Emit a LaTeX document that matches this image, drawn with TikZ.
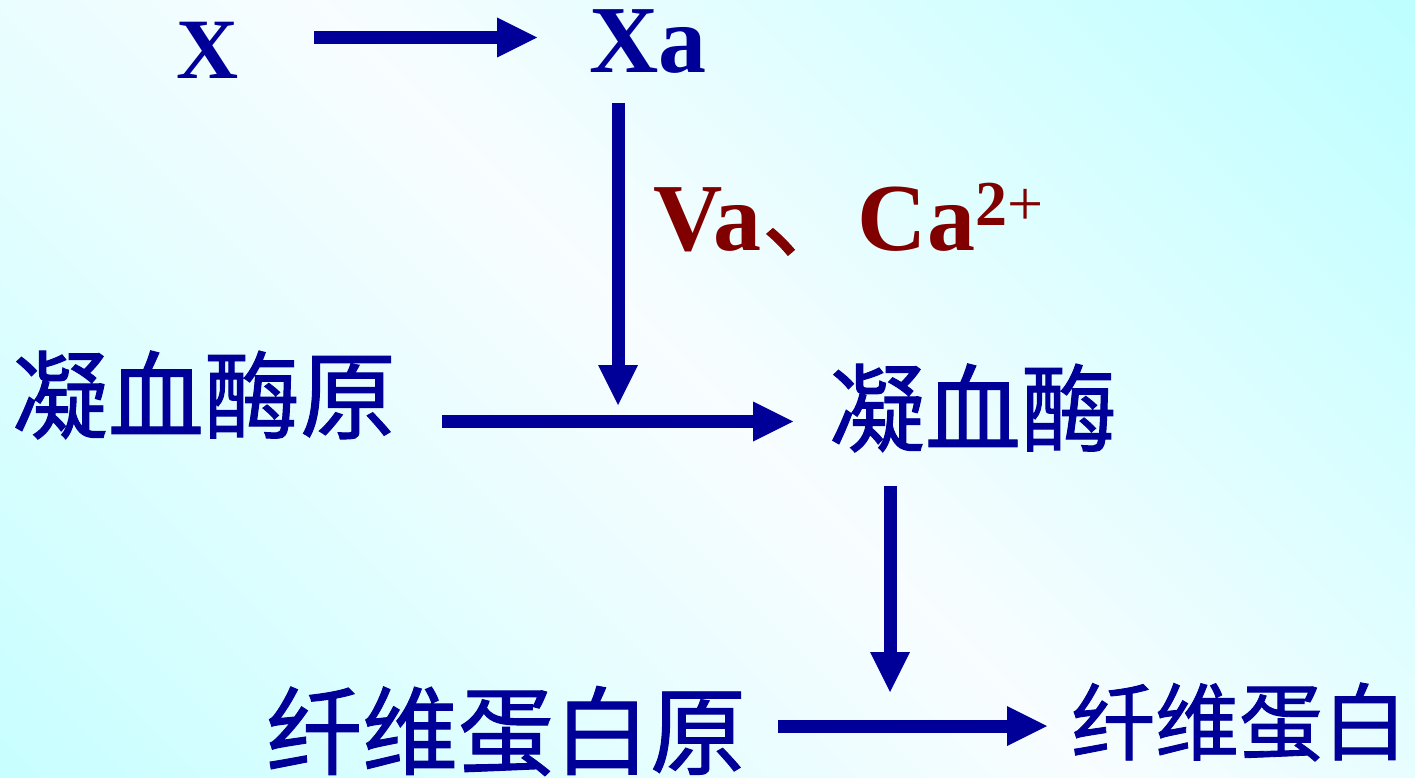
\documentclass[tikz,border=0pt]{standalone}
\usepackage{fontspec}
\setmainfont{Liberation Serif}
\newfontfamily\cjk[FakeBold=1]{Noto Sans CJK SC}
\usetikzlibrary{arrows.meta}
\definecolor{dblue}{RGB}{0,0,153}
\definecolor{dred}{RGB}{128,0,0}
\definecolor{bgA}{RGB}{180,255,255}
\definecolor{bgW}{RGB}{248,253,255}
\definecolor{bgB}{RGB}{165,255,255}
\pgfdeclarehorizontalshading{bgshade}{100bp}{color(0bp)=(bgA); color(50bp)=(bgW); color(100bp)=(bgB)}
\tikzset{
  lat/.style={inner sep=0pt, font=\bfseries\fontsize{96}{96}\selectfont, text=dblue},
  zh/.style={inner sep=0pt, text=dblue, font=\cjk\fontsize{96}{96}\selectfont},
  flow/.style={draw=dblue, line width=13pt, -{Triangle[length=40pt,width=40pt,line width=0pt]}},
}
\begin{document}
\begin{tikzpicture}[x=1pt,y=-1pt]
\shade[shading=bgshade, shading angle=45] (0,0) rectangle (1415,778);
\useasboundingbox (0,0) rectangle (1415,778);
% texts
\node[lat, font=\bfseries\fontsize{86}{86}\selectfont, anchor=base] (X) at (208,79) {X};
\node[lat, anchor=base west] (Xa) at (589,73) {Xa};
\node[lat, text=dred, anchor=base west] (cof) at (653,250) {Va{\mdseries\cjk 、}Ca\raisebox{25pt}{\fontsize{64}{64}\selectfont 2\mdseries+}};
\node[zh] (P) at (204,395) {凝血酶原};
\node[zh] (T) at (973,408) {凝血酶};
\node[zh] (F0) at (506,731) {纤维蛋白原};
\node[zh, font=\cjk\fontsize{84}{84}\selectfont] (F) at (1239,722) {纤维蛋白};
% arrow end points
\coordinate (a1s) at (314,37.5);
\coordinate (a1e) at (537,37.5);
\coordinate (a2s) at (618,103);
\coordinate (a2e) at (618,405);
\coordinate (a3s) at (442,421.5);
\coordinate (a3e) at (793,421.5);
\coordinate (a4s) at (890,486);
\coordinate (a4e) at (890,692);
\coordinate (a5s) at (778,726);
\coordinate (a5e) at (1047,726);
\draw[flow] (a1s) -- (a1e);
\draw[flow] (a2s) -- (a2e);
\draw[flow] (a3s) -- (a3e);
\draw[flow] (a4s) -- (a4e);
\draw[flow] (a5s) -- (a5e);
\end{tikzpicture}
\end{document}
